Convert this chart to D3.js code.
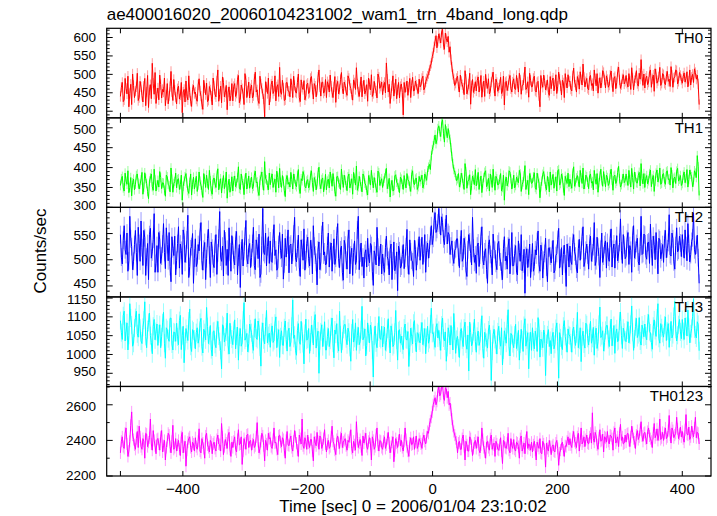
<!DOCTYPE html>
<html><head><meta charset="utf-8">
<script src="https://cdn.jsdelivr.net/npm/d3@7/dist/d3.min.js"></script>
<style>body{margin:0;background:#fff}svg{display:block}text{font-family:"Liberation Sans",Arial,Helvetica,sans-serif;fill:#000}</style>
</head><body>
<script>
const title = "ae400016020_20060104231002_wam1_trn_4band_long.qdp";
const xLabel = "Time [sec] 0 = 2006/01/04 23:10:02";
const yLabel = "Counts/sec";
// bins: even samples at t = -500 + 3i, odd samples at t = -498.5 + 3i
const binStart = -500, binSize = 1.5;
const panelNames = ["TH0","TH1","TH2","TH3","TH0123"];
const panelColors = ["#ff0000","#00ff00","#0000ff","#00ffff","#ff00ff"];
const yDomains = [[382,625],[300,525],[429,600],[915,1153],[2200,2703]];
const yMajorTicks = [[400,450,500,550,600],[300,350,400,450,500],[450,500,550],[950,1000,1050,1100,1150],[2200,2400,2600]];
const yMinorStep = [10,10,10,10,100];
const xTicks = [-500,-400,-300,-200,-100,0,100,200,300,400];
const xTickLabels = [-400,-200,0,200,400];
const errSizes = [14,12,17,24,34];

const th0Even = [
440,478,431,462,495,448,418,470,455,503,
437,466,425,489,452,410,472,530,446,421,
463,498,436,452,415,475,441,508,429,457,
420,468,444,396,459,482,431,451,413,470,
452,427,488,441,405,463,476,430,458,417,
469,439,512,446,423,478,451,404,466,443,
428,475,449,497,432,461,418,483,455,436,
471,442,506,458,421,474,447,385,466,490,
439,482,455,428,472,519,446,463,431,478,
454,488,437,470,449,501,426,465,483,442,
476,451,494,433,468,457,512,441,479,455,
437,472,498,451,466,424,481,459,505,447,
470,443,489,462,430,477,518,452,466,439,
484,456,427,473,499,448,463,436,492,468,
445,478,531,452,421,469,441,487,458,436,
474,390,451,482,465,437,492,456,471,448,
466,489,458,480,495,512,530,558,590,572,
610,585,622,568,597,603,575,520,488,476,
495,452,481,463,510,447,474,419,486,461,
455,493,470,438,482,500,462,447,479,506,
441,478,463,492,455,417,481,469,497,452,
488,459,476,503,446,471,520,463,438,484,
467,495,452,481,412,476,498,458,485,443,
461,490,472,448,506,469,484,437,478,499,
482,455,517,471,494,460,486,528,466,489,
458,497,475,512,469,449,491,478,505,463,
486,471,509,453,494,477,520,462,488,474,
497,466,482,518,458,491,475,503,540,470,
463,495,479,512,488,454,501,483,519,476,
499,472,508,487,521,465,493,510,481,497,
476,504,489,466,512,492,478,505,498,418];
const th0Odd = [
465,426,489,447,412,473,501,437,466,429,
481,443,468,415,497,458,434,476,505,449,
431,472,459,490,444,420,467,452,486,438,
461,433,478,452,425,440,496,427,459,448,
433,471,455,419,484,445,426,467,441,490,
446,482,427,468,493,439,470,452,428,475,
467,440,486,423,471,448,502,437,479,461,
436,487,452,429,495,462,433,480,448,417,
473,448,496,466,440,452,484,429,477,455,
439,470,495,452,478,437,485,459,431,472,
448,489,460,475,439,492,466,478,449,486,
480,452,468,437,494,471,447,486,462,479,
452,496,471,445,485,459,474,440,493,468,
447,472,490,458,440,481,455,501,462,479,
469,450,487,473,448,496,462,434,478,467,
451,478,466,443,489,470,455,482,460,487,
471,495,463,488,502,523,548,575,605,590,
598,615,580,612,588,560,540,500,470,489,
466,498,472,445,487,458,503,469,451,480,
483,452,497,466,440,475,488,454,492,463,
487,454,472,448,495,478,456,486,461,479,
461,497,452,485,470,491,459,480,503,466,
489,456,478,442,497,465,483,470,451,494,
483,455,499,468,487,444,477,502,463,480,
460,496,479,452,485,507,471,492,480,462,
492,470,455,488,502,476,463,510,485,496,
465,498,478,490,461,507,485,472,499,481,
476,502,459,490,483,510,468,487,495,501,
489,472,507,465,498,515,476,493,470,502,
476,495,481,467,498,490,512,474,505,486,
495,479,507,482,471,500,515,487,474];

const th1Even = [
355,378,341,366,392,350,329,371,358,384,
346,369,333,387,360,322,374,352,396,341,
368,390,347,361,328,377,354,399,338,365,
349,372,357,318,366,385,342,363,331,376,
362,340,389,356,325,371,381,345,367,333,
374,350,397,359,336,380,362,323,371,352,
341,379,360,402,345,368,332,386,361,348,
376,353,391,364,330,378,356,415,369,344,
357,384,362,338,375,398,350,366,327,380,
363,388,346,372,352,395,335,367,381,349,
370,355,392,340,366,359,401,347,374,356,
344,371,389,353,365,328,378,358,396,350,
368,342,384,360,333,373,404,352,365,339,
379,356,331,370,393,349,362,338,387,365,
350,374,398,358,326,368,343,382,359,337,
371,345,360,385,366,340,392,357,374,352,
365,381,358,377,392,408,430,455,482,470,
505,478,520,464,492,498,471,428,395,380,
372,351,386,360,410,348,369,332,379,357,
354,388,365,337,375,392,358,341,370,396,
343,372,359,385,350,318,376,363,389,346,
381,355,368,393,340,364,405,357,332,375,
362,387,345,373,324,366,390,352,378,339,
356,383,364,341,395,360,374,330,369,386,
371,348,402,362,380,351,375,399,358,377,
347,384,365,393,358,338,379,367,390,352,
375,360,396,343,381,366,403,351,372,362,
384,355,370,398,346,377,361,388,410,359,
350,380,367,394,371,340,386,364,399,361,
385,358,392,372,400,349,376,391,366,380,
360,389,372,351,394,377,363,386,430,330];
const th1Odd = [
372,349,386,358,337,375,362,344,380,361,
359,388,351,372,340,366,384,343,369,356,
351,375,362,343,381,358,339,371,360,386,
370,345,381,353,377,361,335,384,358,346,
378,356,366,342,385,350,360,393,341,369,
359,381,344,372,361,347,389,355,338,377,
367,352,375,348,384,359,371,346,379,363,
347,381,362,340,368,389,343,372,355,386,
374,350,371,391,349,363,380,342,370,358,
351,370,384,357,379,346,372,390,353,366,
349,381,362,375,344,387,358,370,339,383,
366,349,372,385,340,377,362,345,370,381,
355,377,349,372,388,356,343,378,352,384,
361,342,380,356,368,375,348,391,355,372,
366,385,347,373,356,341,379,363,350,376,
358,380,349,369,352,383,362,371,345,378,
370,349,384,368,401,395,445,468,460,498,
490,512,485,508,475,482,450,410,388,367,
385,362,374,345,390,366,382,355,370,395,
368,345,379,360,388,352,373,384,350,365,
378,356,370,341,381,366,354,392,372,361,
349,376,362,384,357,379,345,368,385,360,
377,350,386,361,352,383,371,344,365,389,
370,348,377,392,356,384,349,378,360,352,
358,386,353,374,366,393,360,346,381,363,
379,361,344,372,385,362,396,353,371,381,
355,383,368,378,360,388,372,357,384,367,
367,393,351,375,389,362,380,354,372,385,
373,359,385,352,380,366,394,374,358,383,
364,389,370,356,382,373,360,398,371,355,
381,362,395,370,383,352,392,375,402];

const th2Even = [
548,492,565,510,478,583,525,497,556,470,
531,574,489,542,505,462,560,515,588,493,
476,538,507,569,483,529,552,458,521,545,
499,563,530,472,546,511,585,487,525,455,
540,494,517,571,480,533,502,558,466,522,
485,548,513,592,497,469,536,520,561,478,
527,490,554,505,447,539,516,575,492,531,
504,562,481,526,549,473,598,510,488,544,
536,495,567,519,484,552,503,463,541,528,
475,530,514,581,496,547,468,523,559,500,
543,488,521,565,509,452,534,496,572,515,
492,551,517,478,540,503,569,485,526,461,
528,482,557,509,470,536,498,583,513,487,
465,519,541,494,527,451,509,562,488,530,
511,476,545,499,520,462,534,490,441,517,
488,529,503,558,472,515,496,537,480,523,
499,543,512,476,532,520,565,541,590,558,
598,547,571,529,585,552,510,536,493,521,
540,485,556,503,527,468,548,512,581,495,
474,532,509,563,490,521,455,538,502,549,
518,481,535,496,462,544,507,526,473,552,
489,527,471,514,548,492,436,521,503,466,
531,487,509,555,478,516,499,541,458,523,
494,537,480,512,560,503,471,528,449,515,
526,491,548,507,475,539,518,563,496,530,
482,545,513,571,498,524,466,551,507,536,
533,497,559,520,484,546,511,578,493,528,
506,552,527,476,565,518,541,490,583,512,
547,501,534,568,489,529,552,473,538,515,
495,556,521,586,507,540,482,561,518,532,
548,503,527,569,496,535,589,510,547,455];
const th2Odd = [
505,537,519,551,498,540,481,529,514,562,
497,523,556,470,531,548,503,539,476,527,
552,493,530,514,561,498,487,544,508,471,
531,484,518,557,495,538,466,521,550,503,
487,529,553,498,520,462,541,509,534,492,
530,472,541,505,526,556,489,470,515,546,
500,538,471,529,517,488,545,503,523,485,
531,489,538,502,466,527,514,551,525,493,
497,541,508,480,529,518,549,492,505,557,
527,492,549,504,521,486,538,499,480,531,
502,537,473,526,495,519,481,548,509,490,
527,486,532,509,491,546,502,519,476,537,
499,540,473,522,514,491,557,481,532,505,
512,486,505,531,478,517,490,524,509,473,
487,523,506,471,530,498,479,515,526,484,
510,483,525,490,538,499,468,520,507,544,
523,491,548,518,503,545,529,575,552,570,
566,582,540,561,530,548,526,505,518,540,
505,528,497,541,479,519,534,490,522,509,
526,487,545,500,515,481,529,510,471,520,
493,530,505,478,521,498,482,540,506,488,
512,476,536,497,479,520,508,485,530,494,
478,519,535,491,528,465,512,486,522,507,
519,475,508,539,484,523,510,492,530,486,
497,533,515,482,521,499,544,487,518,509,
531,497,525,489,543,506,520,495,529,484,
505,541,486,530,520,498,533,517,548,502,
539,491,518,547,503,531,496,525,510,549,
508,532,493,521,545,500,518,541,502,529,
540,504,533,510,551,496,527,515,545,506,
522,557,498,531,510,542,519,528,504];

const th3Even = [
1090,1040,1115,1062,1012,1135,1078,1030,1098,1055,
1108,1036,1072,1140,1018,1085,1050,1002,1093,1061,
1024,1079,1047,1112,990,1066,1035,1097,1012,1058,
1083,1026,1104,1050,978,1069,1037,1121,1008,1062,
1015,1071,1043,1096,1004,1058,1125,1029,1077,996,
1063,1018,1088,1034,962,1075,1046,1110,1001,1052,
1026,1092,1049,985,1069,1031,1138,1044,1007,1081,
1058,1011,1095,1040,1072,969,1084,1028,1117,1050,
1019,1076,1037,1100,1045,992,1063,1024,1089,1009,
1070,1033,1145,1051,998,1082,1027,1061,975,1094,
1041,1003,1078,1025,1106,1046,950,1060,1021,1087,
1012,1069,1038,1097,991,1054,1028,1115,1005,1067,
1080,1026,1059,982,1093,1043,1011,1072,1034,1128,
1047,996,1084,1031,1062,940,1076,1018,1101,1040,
1020,1073,1032,1095,1004,1058,1026,1117,985,1066,
1049,1013,1081,1039,968,1070,1028,1090,1007,1055,
1031,1085,1046,1002,1075,1040,1123,1058,1019,1082,
1064,1011,1097,1036,982,1071,1025,1049,1109,1003,
1048,992,1069,1021,1086,1014,956,1058,1030,1094,
1006,1062,1035,1103,990,1045,1017,1078,931,1053,
1040,1001,1075,1022,972,1063,1030,1119,996,1051,
1018,1080,1034,985,1067,1008,1095,1039,962,1059,
1071,1015,1047,1098,993,1036,1065,944,1052,1021,
1002,1059,1027,1084,937,1044,1013,1090,1031,1068,
1049,1006,1073,1024,1112,1038,981,1062,1017,1079,
1025,1088,1043,998,1070,1034,1126,1050,1009,1064,
1077,1021,1094,1046,1003,1068,1037,1113,1016,1059,
1034,1087,1052,1129,1011,1074,1045,1098,1025,1066,
1081,1039,1106,1057,1014,1092,1048,1135,1030,1071,
1046,1100,1062,1019,1088,1053,1141,1036,1079,1060,
1093,1040,1075,1118,1031,1069,1148,1052,1087,1010];
const th3Odd = [
1058,1103,1036,1084,1051,1097,1022,1070,1115,1046,
1070,1029,1091,1048,1066,1110,1032,1075,1039,1081,
1055,1018,1084,1030,1071,1042,1096,1028,1060,1035,
1047,1090,1013,1075,1035,1054,1089,1022,1066,1041,
1058,1030,1085,1021,1067,1039,1074,1050,1013,1061,
1027,1066,1049,1011,1079,1033,1060,1024,1083,1041,
1064,1015,1073,1047,1022,1091,1038,1056,1029,1068,
1027,1070,1044,1089,1020,1061,1039,1074,1031,1057,
1059,1032,1083,1018,1066,1047,1025,1071,1040,1062,
1021,1075,1043,1010,1064,1035,1088,1029,1056,1038,
1069,1033,1055,1090,1017,1062,1037,1079,1045,1012,
1048,1021,1074,1030,1065,1082,1009,1052,1036,1079,
1042,1070,1019,1057,1033,1084,1050,1026,1066,1039,
1068,1024,1055,1078,1012,1049,1031,1060,1044,1075,
1052,1011,1067,1042,1076,1021,1059,1038,1063,1030,
1025,1070,1040,1061,1019,1048,1083,1032,1058,1036,
1062,1026,1069,1045,1030,1081,1056,1037,1072,1044,
1035,1078,1044,1060,1019,1055,1077,1012,1063,1040,
1017,1061,1039,1070,1028,1052,1086,1023,1061,1035,
1048,1024,1071,1016,1059,1032,1065,1041,1009,1067,
1026,1060,1038,1071,1012,1047,1080,1020,1056,1029,
1052,1016,1064,1028,1039,1077,1022,1058,1035,1011,
1033,1062,1008,1070,1041,1018,1054,1029,1066,1037,
1046,1015,1069,1035,1058,1022,1075,1048,1006,1052,
1031,1064,1040,1055,1018,1071,1047,1028,1083,1043,
1058,1030,1072,1051,1016,1080,1045,1063,1032,1077,
1040,1066,1023,1077,1056,1034,1089,1051,1070,1038,
1065,1031,1080,1059,1041,1096,1053,1036,1078,1047,
1049,1084,1061,1032,1075,1064,1097,1043,1082,1056,
1078,1037,1082,1060,1044,1101,1067,1051,1093,1042,
1061,1097,1049,1072,1055,1101,1068,1044,1080];

const th0123Even = [
2330,2420,2355,2470,2310,2395,2560,2405,2350,2450,
2480,2365,2410,2300,2435,2390,2520,2345,2400,2325,
2410,2345,2455,2370,2290,2395,2430,2330,2485,2360,
2340,2400,2315,2445,2365,2255,2390,2420,2335,2380,
2415,2350,2465,2330,2385,2300,2440,2360,2400,2325,
2390,2340,2430,2375,2495,2320,2405,2355,2445,2310,
2360,2420,2335,2460,2380,2265,2410,2350,2435,2395,
2345,2405,2370,2500,2330,2395,2425,2285,2380,2440,
2415,2355,2470,2390,2320,2430,2365,2405,2300,2450,
2370,2425,2340,2455,2385,2310,2410,2520,2355,2395,
2430,2360,2405,2285,2390,2445,2350,2415,2375,2460,
2335,2400,2365,2480,2380,2320,2425,2355,2440,2390,
2410,2345,2390,2460,2330,2375,2505,2360,2405,2315,
2385,2440,2350,2415,2290,2400,2365,2470,2340,2395,
2350,2420,2375,2445,2330,2390,2280,2410,2360,2435,
2400,2340,2470,2365,2310,2415,2380,2350,2425,2370,
2395,2355,2430,2380,2450,2490,2530,2600,2640,2620,
2700,2660,2720,2625,2690,2675,2610,2520,2450,2410,
2330,2395,2350,2430,2290,2375,2340,2410,2315,2385,
2355,2420,2330,2470,2360,2300,2395,2345,2430,2375,
2310,2380,2345,2415,2270,2390,2355,2440,2330,2370,
2405,2340,2385,2300,2425,2360,2325,2450,2380,2345,
2335,2395,2290,2370,2410,2325,2380,2250,2355,2400,
2320,2375,2335,2400,2260,2345,2390,2310,2365,2420,
2410,2360,2450,2385,2420,2340,2470,2395,2365,2430,
2380,2440,2555,2390,2425,2350,2460,2400,2335,2415,
2450,2380,2425,2345,2470,2400,2365,2490,2420,2385,
2390,2440,2365,2480,2410,2355,2455,2420,2505,2395,
2445,2380,2470,2410,2360,2495,2430,2400,2520,2415,
2400,2470,2420,2540,2385,2455,2430,2530,2410,2475,
2450,2390,2545,2430,2405,2480,2420,2530,2445,2380];
const th0123Odd = [
2395,2365,2440,2380,2340,2485,2430,2375,2410,2360,
2420,2350,2395,2440,2365,2415,2380,2455,2370,2405,
2380,2420,2335,2400,2360,2440,2365,2395,2350,2410,
2375,2350,2420,2330,2395,2345,2410,2360,2390,2340,
2365,2395,2340,2410,2355,2425,2375,2335,2390,2380,
2355,2405,2380,2340,2420,2365,2385,2430,2350,2390,
2395,2350,2405,2375,2420,2340,2385,2430,2360,2400,
2380,2360,2420,2395,2355,2440,2370,2400,2345,2410,
2365,2405,2385,2350,2425,2390,2415,2345,2400,2375,
2405,2360,2395,2420,2345,2430,2380,2370,2415,2350,
2385,2405,2340,2420,2370,2395,2425,2355,2410,2380,
2380,2355,2420,2395,2345,2405,2385,2415,2360,2400,
2370,2400,2420,2355,2395,2345,2410,2385,2365,2425,
2410,2365,2395,2380,2420,2350,2430,2375,2400,2360,
2395,2355,2410,2385,2365,2420,2340,2385,2400,2370,
2360,2395,2405,2340,2385,2375,2420,2390,2355,2410,
2380,2410,2395,2420,2440,2510,2560,2620,2600,2680,
2650,2710,2640,2695,2640,2600,2570,2480,2430,2390,
2385,2350,2410,2365,2395,2340,2420,2370,2355,2400,
2390,2345,2375,2405,2335,2390,2360,2410,2350,2385,
2395,2350,2375,2340,2400,2360,2385,2345,2410,2355,
2350,2390,2365,2410,2340,2385,2400,2355,2375,2390,
2375,2345,2390,2355,2330,2395,2350,2385,2340,2365,
2365,2340,2385,2355,2330,2380,2345,2370,2395,2375,
2375,2420,2395,2360,2440,2400,2380,2420,2405,2385,
2420,2385,2410,2445,2375,2415,2395,2435,2420,2390,
2395,2430,2410,2445,2385,2420,2440,2400,2380,2430,
2435,2400,2420,2445,2390,2430,2405,2460,2425,2440,
2410,2450,2425,2395,2440,2415,2465,2430,2405,2445,
2440,2410,2455,2430,2470,2415,2440,2465,2435,2420,
2410,2460,2435,2475,2420,2445,2470,2415,2440];

function interleave(even, odd) {
  const out = [];
  even.forEach((v, i) => { out.push(v); if (i < odd.length) out.push(odd[i]); });
  return out;
}
const seriesList = [
  interleave(th0Even, th0Odd), interleave(th1Even, th1Odd), interleave(th2Even, th2Odd),
  interleave(th3Even, th3Odd), interleave(th0123Even, th0123Odd)];

const W = 717, H = 516;
const plotLeft = 106.7, plotRight = 711, plotTop = 28.3, plotBottom = 476;
const ph = (plotBottom - plotTop) / 5;

const svg = d3.select("body").append("svg").attr("width", W).attr("height", H);
const x = d3.scaleLinear().domain([-522, 446]).range([plotLeft, plotRight]);

svg.append("text").attr("x", plotLeft).attr("y", 20).attr("font-size", 17).text(title);
svg.append("text").attr("transform", `translate(46,251) rotate(-90)`).attr("text-anchor", "middle").attr("font-size", 17).text(yLabel);
svg.append("text").attr("x", 413).attr("y", 511.5).attr("text-anchor", "middle").attr("font-size", 17).text(xLabel);

seriesList.forEach((vals, p) => {
  const y0 = plotTop + p * ph, y1 = y0 + ph;
  const y = d3.scaleLinear().domain(yDomains[p]).range([y1, y0]);
  const g = svg.append("g");
  const cid = "clip" + p;
  svg.append("clipPath").attr("id", cid).append("rect").attr("x", plotLeft).attr("y", y0).attr("width", plotRight - plotLeft).attr("height", ph);
  const data = vals.map((v, i) => ({t: binStart + i * binSize, v}));
  const dg = g.append("g").attr("clip-path", `url(#${cid})`);
  const col = panelColors[p];
  const e = errSizes[p];
  dg.selectAll("line.err").data(data).join("line").attr("class", "err")
    .attr("x1", d => x(d.t)).attr("x2", d => x(d.t))
    .attr("y1", d => y(d.v - e)).attr("y2", d => y(d.v + e))
    .attr("stroke", col).attr("stroke-opacity", 0.4).attr("stroke-width", 1);
  dg.append("path").datum(data)
    .attr("d", d3.line().x(d => x(d.t)).y(d => y(d.v)))
    .attr("fill", "none").attr("stroke", col).attr("stroke-width", 1);

  g.append("rect").attr("x", plotLeft).attr("y", y0).attr("width", plotRight - plotLeft).attr("height", ph)
    .attr("fill", "none").attr("stroke", "#000").attr("stroke-width", 1.2);

  const [dmin, dmax] = yDomains[p];
  const step = yMinorStep[p];
  const minor = d3.range(Math.ceil(dmin / step) * step, dmax + 0.001, step).filter(v => !yMajorTicks[p].includes(v));
  const tk = g.append("g").attr("stroke", "#000").attr("stroke-width", 1);
  minor.forEach(v => {
    tk.append("line").attr("x1", plotLeft).attr("x2", plotLeft + 3).attr("y1", y(v)).attr("y2", y(v));
    tk.append("line").attr("x1", plotRight).attr("x2", plotRight - 3).attr("y1", y(v)).attr("y2", y(v));
  });
  const majors = yMajorTicks[p];
  majors.forEach((v, k) => {
    tk.append("line").attr("x1", plotLeft).attr("x2", plotLeft + 6).attr("y1", y(v)).attr("y2", y(v));
    tk.append("line").attr("x1", plotRight).attr("x2", plotRight - 6).attr("y1", y(v)).attr("y2", y(v));
    // slight nudge keeps labels at shared panel edges from colliding
    const nudge = (k === 0 && p < 4) ? -2 : (k === majors.length - 1 && p > 0 ? 1.5 : 0);
    g.append("text").attr("x", 96).attr("y", y(v) + nudge).attr("dy", "0.33em").attr("text-anchor", "end").attr("font-size", 13.5).text(v);
  });
  xTicks.forEach(t => {
    tk.append("line").attr("x1", x(t)).attr("x2", x(t)).attr("y1", y0).attr("y2", y0 + 5);
    tk.append("line").attr("x1", x(t)).attr("x2", x(t)).attr("y1", y1).attr("y2", y1 - 5);
  });
  g.append("text").attr("x", plotRight - 8).attr("y", y0 + 15).attr("text-anchor", "end").attr("font-size", 15).text(panelNames[p]);
});

xTickLabels.forEach(t => {
  svg.append("text").attr("x", x(t)).attr("y", 494).attr("text-anchor", "middle").attr("font-size", 15)
    .text(t < 0 ? "\u2212" + Math.abs(t) : String(t));
});
</script>
</body></html>
